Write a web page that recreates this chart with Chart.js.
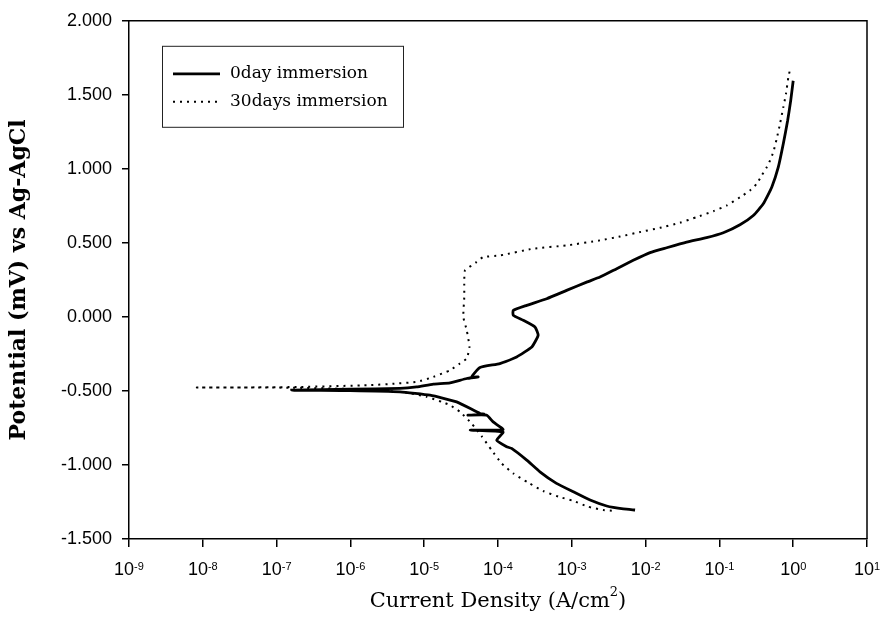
<!DOCTYPE html>
<html>
<head>
<meta charset="utf-8">
<script src="https://cdn.jsdelivr.net/npm/chart.js@4.4.1/dist/chart.umd.min.js"></script>
<style>
  body { margin: 0; background: #fff; }
  #wrap { width: 881px; height: 630px; }
</style>
</head>
<body>
<div id="wrap"><canvas id="polarisation" width="881" height="630"></canvas></div>
<script>
// 0 day immersion, scan order: cathodic end -> Ecorr -> anodic end
const zeroDayCurrent = [
  7.2e-3, 5.0e-3, 2.97e-3, 1.77e-3, 1.05e-3, 6.2e-4, 3.7e-4, 2.45e-4, 1.53e-4,
  1.31e-4, 9.6e-5, 1.17e-4, 4.2e-5, 1.17e-4, 8.6e-5, 7.0e-5, 3.9e-5, 6.5e-5,
  5.7e-5, 2.75e-5, 1.2e-5, 4.7e-6, 9.9e-7, 1.6e-7,
  9.9e-7, 4.7e-6, 7.9e-6, 1.33e-5, 2.24e-5, 3.77e-5, 5.4e-5, 4.4e-5, 5.7e-5,
  1.06e-4, 1.79e-4, 2.87e-4, 3.5e-4, 3.17e-4, 2.2e-4, 1.61e-4, 1.61e-4,
  2.45e-4, 4.57e-4, 8.5e-4, 1.59e-3, 2.41e-3, 4.06e-3, 6.8e-3, 1.15e-2,
  1.93e-2, 3.6e-2, 6.7e-2, 0.113, 0.19, 0.288, 0.393, 0.512, 0.628, 0.734,
  0.841, 0.925, 1.0,
];
const zeroDayPotential = [
  -1.304, -1.297, -1.277, -1.237, -1.181, -1.124, -1.046, -0.967, -0.888,
  -0.877, -0.832, -0.778, -0.765, -0.761, -0.709, -0.664, -0.664, -0.657,
  -0.652, -0.574, -0.529, -0.506, -0.498, -0.495,
  -0.488, -0.483, -0.473, -0.454, -0.446, -0.416, -0.405, -0.405, -0.342,
  -0.315, -0.27, -0.203, -0.124, -0.068, -0.023, 0.011, 0.044,
  0.078, 0.123, 0.179, 0.235, 0.269, 0.326, 0.382, 0.434,
  0.467, 0.505, 0.535, 0.568, 0.622, 0.685, 0.764, 0.876, 1.011, 1.169,
  1.326, 1.461, 1.595,
];

// 30 days immersion
const thirtyDayCurrent = [
  3.48e-3, 2.67e-3, 1.67e-3, 1.05e-3, 6.6e-4, 4.1e-4, 2.58e-4, 1.61e-4,
  1.12e-4, 8.2e-5, 6.0e-5, 4.4e-5, 3.05e-5, 2.24e-5, 1.73e-5, 1.08e-5,
  6.4e-6, 2.5e-6, 7.2e-7, 1.5e-7, 3.2e-8, 8.3e-9,
  4.4e-8, 2.07e-7, 1.85e-6, 4.2e-6, 7.9e-6, 1.33e-5, 2.24e-5, 3.05e-5,
  3.77e-5, 4.1e-5, 3.77e-5, 3.39e-5, 3.49e-5, 3.49e-5, 3.57e-5, 4.4e-5,
  5.1e-5, 6.3e-5, 1.06e-4, 3.0e-4, 8.5e-4, 2.41e-3, 4.5e-3, 8.4e-3,
  1.57e-2, 2.92e-2, 4.9e-2, 8.3e-2, 0.126, 0.19, 0.26, 0.32, 0.374, 0.438,
  0.485, 0.537, 0.597, 0.662, 0.734, 0.798, 0.859, 0.904,
];
const thirtyDayPotential = [
  -1.309, -1.304, -1.282, -1.243, -1.214, -1.176, -1.12, -1.057,
  -0.989, -0.9, -0.805, -0.72, -0.641, -0.596, -0.574, -0.54,
  -0.515, -0.495, -0.485, -0.478, -0.477, -0.477,
  -0.476, -0.473, -0.461, -0.45, -0.439, -0.405, -0.36, -0.315,
  -0.281, -0.203, -0.09, 0.0, 0.134, 0.247, 0.314, 0.348,
  0.37, 0.404, 0.415, 0.461, 0.483, 0.517, 0.543, 0.573,
  0.602, 0.636, 0.674, 0.714, 0.753, 0.808, 0.854, 0.899, 0.955, 1.011,
  1.056, 1.112, 1.202, 1.303, 1.415, 1.506, 1.618, 1.668,
];

const seriesLabels = ["0day immersion", "30days immersion"];
const xTickExponents = [-9, -8, -7, -6, -5, -4, -3, -2, -1, 0, 1];

function toPoints(xs, ys) {
  return xs.map((x, i) => ({ x: x, y: ys[i] }));
}

// top/right frame, superscript x labels, x title and boxed legend
const extras = {
  id: "extras",
  afterDraw(chart) {
    const ctx = chart.ctx;
    const a = chart.chartArea;
    const xs = chart.scales.x;
    ctx.save();
    ctx.strokeStyle = "#000";
    ctx.lineWidth = 1.5;
    ctx.beginPath();
    ctx.moveTo(a.left, a.top);
    ctx.lineTo(a.right, a.top);
    ctx.lineTo(a.right, a.bottom);
    ctx.stroke();

    // x tick labels 10^n
    ctx.fillStyle = "#000";
    ctx.textBaseline = "alphabetic";
    ctx.textAlign = "left";
    xTickExponents.forEach((e) => {
      const px = xs.getPixelForValue(Math.pow(10, e));
      ctx.font = "18px 'Liberation Sans'";
      const base = "10";
      const wb = ctx.measureText(base).width;
      ctx.font = "11px 'Liberation Sans'";
      const sup = String(e);
      const ws = ctx.measureText(sup).width;
      const x0 = px - (wb + ws) / 2;
      ctx.font = "18px 'Liberation Sans'";
      ctx.fillText(base, x0, a.bottom + 36);
      ctx.font = "11px 'Liberation Sans'";
      ctx.fillText(sup, x0 + wb, a.bottom + 31);
    });

    // x axis title with raised exponent
    const t1 = "Current Density (A/cm";
    const t2 = "2";
    const t3 = ")";
    ctx.font = "21px 'DejaVu Serif'";
    const w1 = ctx.measureText(t1).width;
    const w3 = ctx.measureText(t3).width;
    ctx.font = "13px 'DejaVu Serif'";
    const w2 = ctx.measureText(t2).width;
    let tx = (a.left + a.right) / 2 - (w1 + w2 + w3) / 2;
    const ty = 607;
    ctx.font = "21px 'DejaVu Serif'";
    ctx.fillText(t1, tx, ty);
    ctx.font = "13px 'DejaVu Serif'";
    ctx.fillText(t2, tx + w1, ty - 11);
    ctx.font = "21px 'DejaVu Serif'";
    ctx.fillText(t3, tx + w1 + w2, ty);

    // legend
    const lx = a.left + 33, ly = a.top + 25, lw = 241, lh = 81;
    ctx.lineWidth = 1;
    ctx.strokeStyle = "#222";
    ctx.strokeRect(lx + 0.5, ly + 0.5, lw, lh);
    ctx.font = "17px 'DejaVu Serif'";
    ctx.textBaseline = "middle";
    chart.data.datasets.forEach((ds, i) => {
      const yy = ly + 28 + i * 28;
      ctx.strokeStyle = ds.borderColor;
      ctx.lineWidth = ds.borderWidth;
      ctx.setLineDash(ds.borderDash || []);
      ctx.beginPath();
      ctx.moveTo(lx + 11, yy);
      ctx.lineTo(lx + 58, yy);
      ctx.stroke();
      ctx.setLineDash([]);
      ctx.fillText(ds.label, lx + 68, yy);
    });
    ctx.restore();
  },
};

const ctx = document.getElementById("polarisation").getContext("2d");

new Chart(ctx, {
  type: "scatter",
  data: {
    datasets: [
      {
        label: seriesLabels[0],
        data: toPoints(zeroDayCurrent, zeroDayPotential),
        showLine: true,
        borderColor: "#000",
        borderWidth: 2.8,
        pointRadius: 0,
        tension: 0.15,
      },
      {
        label: seriesLabels[1],
        data: toPoints(thirtyDayCurrent, thirtyDayPotential),
        showLine: true,
        borderColor: "#000",
        borderWidth: 2,
        borderDash: [2, 5],
        pointRadius: 0,
        tension: 0.15,
      },
    ],
  },
  options: {
    responsive: false,
    animation: false,
    devicePixelRatio: 1,
    layout: { padding: { top: 20, right: 14, left: 0, bottom: 0 } },
    plugins: {
      legend: { display: false },
      tooltip: { enabled: false },
    },
    scales: {
      x: {
        type: "logarithmic",
        min: 1e-9,
        max: 10,
        afterBuildTicks: (s) => {
          s.ticks = xTickExponents.map((e) => ({ value: Math.pow(10, e) }));
        },
        afterFit: (s) => {
          s.height = 91;
        },
        ticks: {
          autoSkip: false,
          maxRotation: 0,
          callback: () => "",
        },
        grid: {
          drawOnChartArea: false,
          drawTicks: true,
          tickLength: 8,
          color: "#000",
          lineWidth: 1.5,
        },
        border: { display: true, color: "#000", width: 1.5 },
      },
      y: {
        min: -1.5,
        max: 2,
        afterFit: (s) => {
          s.width = 129;
        },
        ticks: {
          stepSize: 0.5,
          color: "#000",
          padding: 10,
          font: { family: "Liberation Sans", size: 18 },
          callback: (v) => v.toFixed(3),
        },
        grid: {
          drawOnChartArea: false,
          drawTicks: true,
          tickLength: 7,
          color: "#000",
          lineWidth: 1.5,
        },
        border: { display: true, color: "#000", width: 1.5 },
        title: {
          display: true,
          text: "Potential (mV) vs Ag-AgCl",
          color: "#000",
          font: { family: "DejaVu Serif", size: 22, weight: "bold" },
          padding: { top: 6 },
        },
      },
    },
  },
  plugins: [extras],
});
</script>
</body>
</html>
